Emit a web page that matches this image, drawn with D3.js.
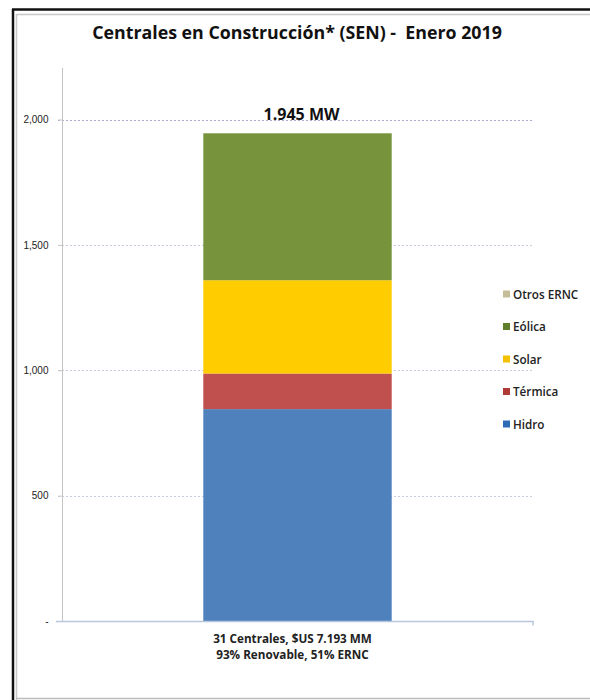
<!DOCTYPE html>
<html>
<head>
<meta charset="utf-8">
<script src="https://cdn.jsdelivr.net/npm/d3@7"></script>
<style>
  html, body { margin: 0; background: #fff; overflow: hidden; }
  svg { display: block; }
  svg text { font-family: "Open Sans", "Liberation Sans", sans-serif; white-space: pre; }
</style>
</head>
<body>
<div id="area"></div>
<script>
var width = 590,
    height = 700;

// data (MW)
var categories = ['31 Centrales, $US 7.193 MM'];
var subLabel = '93% Renovable, 51% ERNC';
var seriesNames = ['Hidro', 'Térmica', 'Solar', 'Eólica', 'Otros ERNC'];
var hidro = [845];
var termica = [142];
var solar = [372];
var eolica = [586];
var otros = [0];
var totalLabel = ['1.945 MW'];
var yTicks = [0, 500, 1000, 1500, 2000];
var yTickLabels = ['-', '500', '1,000', '1,500', '2,000'];

var colors = {
  'Hidro': '#4f81bd',
  'Térmica': '#c0504d',
  'Solar': '#ffcc00',
  'Eólica': '#77933c',
  'Otros ERNC': '#c4bd97'
};
var legendColors = {
  'Hidro': '#2e6bb5',
  'Térmica': '#b03a36',
  'Solar': '#f5c000',
  'Eólica': '#5f7f2a',
  'Otros ERNC': '#c4bd97'
};

var rows = categories.map(function(c, i) {
  return {cat: c, 'Hidro': hidro[i], 'Térmica': termica[i], 'Solar': solar[i],
          'Eólica': eolica[i], 'Otros ERNC': otros[i]};
});

var svg = d3.select('#area').append('svg')
    .attr('width', width)
    .attr('height', height);

// frame
svg.append('rect').attr('x', 0).attr('y', 0).attr('width', width).attr('height', height).attr('fill', '#fff');
svg.append('line').attr('x1', 12).attr('x2', width).attr('y1', 9.5).attr('y2', 9.5)
    .attr('stroke', '#111').attr('stroke-width', 2.5);
svg.append('line').attr('x1', 13).attr('x2', 13).attr('y1', 9).attr('y2', height)
    .attr('stroke', '#111').attr('stroke-width', 2.5);
svg.append('line').attr('x1', 16.5).attr('x2', width).attr('y1', 14.5).attr('y2', 14.5)
    .attr('stroke', '#c8c8c8').attr('stroke-width', 1.5);
svg.append('line').attr('x1', 16.5).attr('x2', 16.5).attr('y1', 14).attr('y2', height)
    .attr('stroke', '#c8c8c8').attr('stroke-width', 1.5);
svg.append('line').attr('x1', 16).attr('x2', width).attr('y1', 698.5).attr('y2', 698.5)
    .attr('stroke', '#bdbdbd').attr('stroke-width', 1.5);

var plotLeft = 62, plotRight = 533, plotTop = 68, plotBottom = 621;

var y = d3.scaleLinear().domain([0, 2000]).range([plotBottom, 119.5]);
var x = d3.scaleBand().domain(categories).range([plotLeft, plotRight]).paddingInner(0).paddingOuter(0.75);

// title
svg.append('text')
    .attr('x', 297).attr('y', 39)
    .attr('text-anchor', 'middle')
    .attr('font-size', '17.8px')
    .attr('font-weight', 'bold')
    .attr('fill', '#111')
    .text('Centrales en Construcción* (SEN) -  Enero 2019');

// gridlines
svg.append('g').selectAll('line')
    .data(yTicks.filter(function(d) { return d > 0; }))
    .enter().append('line')
    .attr('x1', plotLeft - 4).attr('x2', plotRight)
    .attr('y1', function(d) { return Math.round(y(d)) + 0.5; })
    .attr('y2', function(d) { return Math.round(y(d)) + 0.5; })
    .attr('stroke', function(d) { return d == 2000 ? '#aeaad4' : '#c6cee0'; })
    .attr('stroke-dasharray', '2,2');

// y axis
var yAxis = d3.axisLeft(y)
    .tickValues(yTicks)
    .tickFormat(function(d, i) { return yTickLabels[i]; })
    .tickSize(4)
    .tickPadding(10);
var gy = svg.append('g')
    .attr('transform', 'translate(' + (plotLeft + 0.5) + ',0)')
    .call(yAxis);
gy.select('.domain').attr('d', 'M0,' + plotTop + 'V' + plotBottom).attr('stroke', '#c3c3c3');
gy.selectAll('.tick line').attr('stroke', '#c3c3c3');
gy.selectAll('.tick text')
    .attr('font-size', '10px')
    .attr('fill', '#222')
    .style('font-family', '"Liberation Sans", sans-serif');

// stacked bars
var stack = d3.stack().keys(seriesNames);
var layers = stack(rows);

svg.append('g').selectAll('g')
    .data(layers)
    .enter().append('g')
    .attr('fill', function(d) { return colors[d.key]; })
    .selectAll('rect')
    .data(function(d) { return d; })
    .enter().append('rect')
    .attr('x', function(d) { return x(d.data.cat); })
    .attr('width', x.bandwidth())
    .attr('y', function(d) { return y(d[1]); })
    .attr('height', function(d) { return y(d[0]) - y(d[1]); });

// x axis baseline
var xAxis = d3.axisBottom(x).tickSize(0).tickFormat('');
var gx = svg.append('g')
    .attr('transform', 'translate(0,' + (plotBottom + 0.5) + ')')
    .call(xAxis);
gx.select('.domain').attr('d', 'M' + (plotLeft - 6) + ',0H' + plotRight + 'V4').attr('stroke', '#b7c6dc').attr('stroke-width', 1.5);

// total label
svg.selectAll('.total')
    .data(rows)
    .enter().append('text')
    .attr('class', 'total')
    .attr('x', function(d) { return x(d.cat) + x.bandwidth() / 2 + 4; })
    .attr('y', function(d) { return y(d3.sum(seriesNames, function(k) { return d[k]; })) - 13; })
    .attr('text-anchor', 'middle')
    .attr('font-size', '16px')
    .attr('font-weight', 'bold')
    .attr('fill', '#111')
    .text(function(d, i) { return totalLabel[i]; });

// category labels
var catText = svg.selectAll('.cat')
    .data(categories)
    .enter().append('text')
    .attr('class', 'cat')
    .attr('x', function(d) { return x(d) + x.bandwidth() / 2 - 5; })
    .attr('y', 643)
    .attr('text-anchor', 'middle')
    .attr('font-size', '11.7px')
    .attr('font-weight', 'bold')
    .attr('fill', '#222');
catText.append('tspan').text(function(d) { return d; });
catText.append('tspan')
    .attr('x', function(d) { return x(d) + x.bandwidth() / 2 - 5; })
    .attr('dy', 16)
    .text(subLabel);

// legend (top to bottom reversed order)
var legendOrder = seriesNames.slice().reverse();
var legend = svg.append('g').selectAll('g')
    .data(legendOrder)
    .enter().append('g')
    .attr('transform', function(d, i) { return 'translate(503,' + (294 + i * 32.5) + ')'; });
legend.append('rect')
    .attr('x', 0).attr('y', -3.5)
    .attr('width', 7).attr('height', 7)
    .attr('fill', function(d) { return legendColors[d]; });
legend.append('text')
    .attr('x', 10).attr('y', 4.5)
    .attr('font-size', '11.7px')
    .attr('font-weight', 600)
    .attr('fill', '#222')
    .text(function(d) { return d; });
</script>
</body>
</html>
